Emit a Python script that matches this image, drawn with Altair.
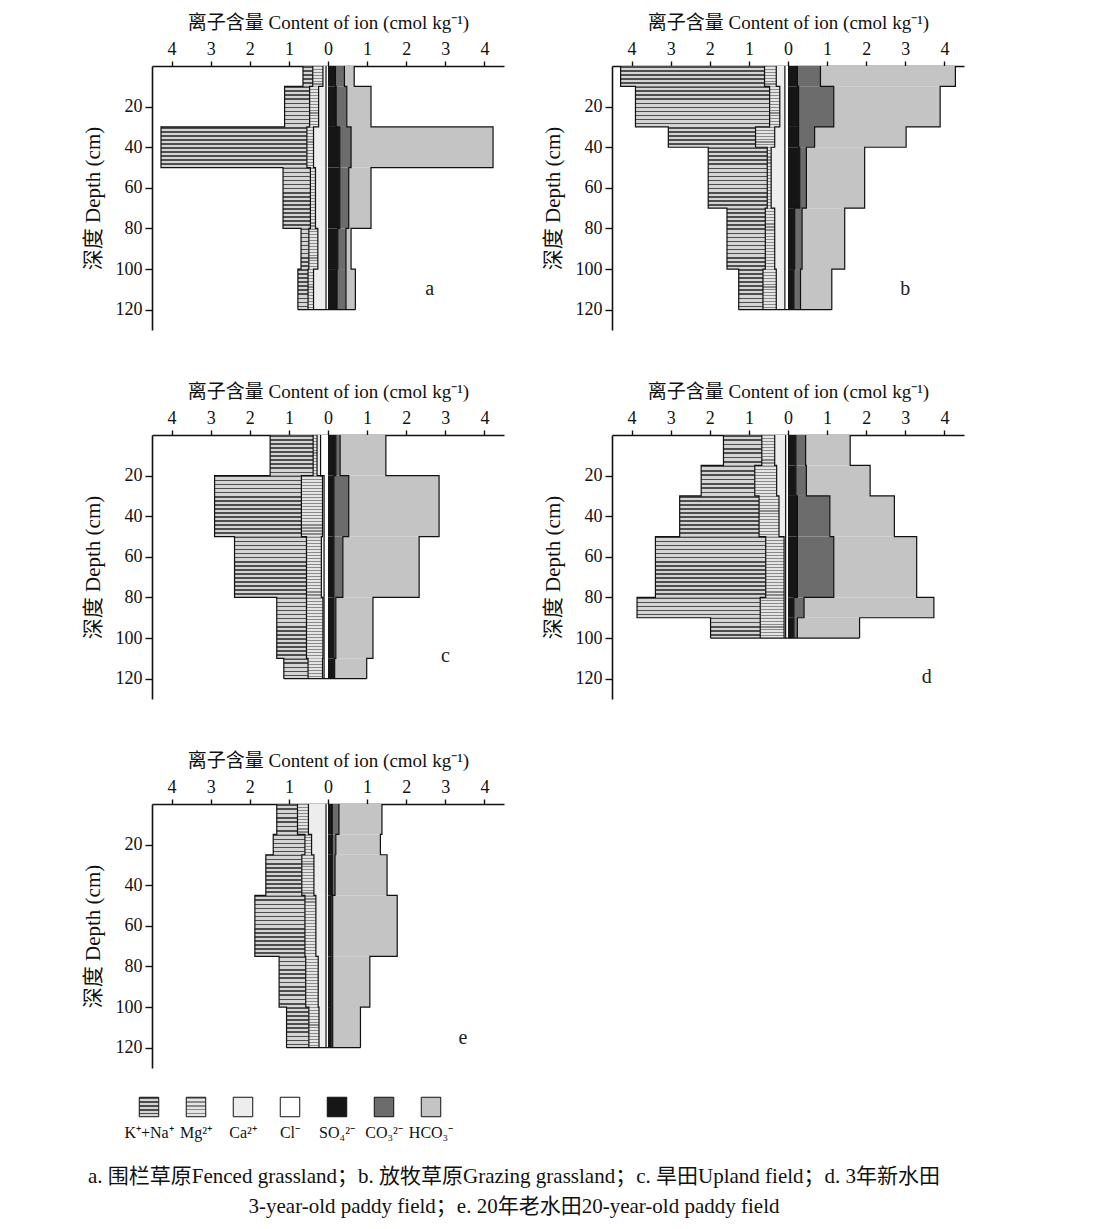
import altair as alt
import pandas as pd

FONT = "Liberation Serif, Noto Sans CJK SC, serif"

# ---------------- data (cmol/kg) ----------------
a_depth = [0, 10, 30, 50, 80, 100, 120]
a_KNa = [0.25, 0.64, 3.73, 0.70, 0.20, 0.26]
a_Mg = [0.26, 0.23, 0.17, 0.13, 0.23, 0.14]
a_Ca = [0.08, 0.19, 0.32, 0.27, 0.21, 0.32]
a_Cl = [0.05, 0.05, 0.05, 0.05, 0.05, 0.05]
a_SO4 = [0.19, 0.21, 0.30, 0.30, 0.25, 0.23]
a_CO3 = [0.23, 0.27, 0.29, 0.23, 0.21, 0.23]
a_HCO3 = [0.25, 0.62, 3.63, 0.57, 0.13, 0.24]

b_depth = [0, 10, 30, 40, 70, 100, 120]
b_KNa = [3.68, 3.43, 2.23, 1.51, 0.98, 0.62]
b_Mg = [0.30, 0.26, 0.49, 0.10, 0.24, 0.34]
b_Ca = [0.22, 0.13, 0.26, 0.35, 0.26, 0.22]
b_Cl = [0.08, 0.08, 0.08, 0.08, 0.08, 0.08]
b_SO4 = [0.24, 0.27, 0.27, 0.30, 0.17, 0.15]
b_CO3 = [0.59, 0.90, 0.41, 0.17, 0.19, 0.17]
b_HCO3 = [3.45, 2.72, 2.34, 1.49, 1.09, 0.80]

c_depth = [0, 20, 50, 80, 110, 120]
c_KNa = [1.10, 2.22, 1.84, 0.76, 0.62]
c_Mg = [0.10, 0.54, 0.38, 0.42, 0.37]
c_Ca = [0.09, 0.04, 0.07, 0.03, 0.04]
c_Cl = [0.19, 0.10, 0.10, 0.10, 0.10]
c_SO4 = [0.20, 0.15, 0.15, 0.15, 0.15]
c_CO3 = [0.11, 0.38, 0.23, 0.05, 0.02]
c_HCO3 = [1.17, 2.31, 1.95, 0.95, 0.82]

d_depth = [0, 15, 30, 50, 80, 90, 100]
d_KNa = [0.98, 1.37, 2.03, 2.82, 3.15, 1.27]
d_Mg = [0.33, 0.56, 0.51, 0.47, 0.61, 0.61]
d_Ca = [0.28, 0.23, 0.17, 0.04, 0.04, 0.04]
d_Cl = [0.06, 0.06, 0.06, 0.06, 0.06, 0.06]
d_SO4 = [0.20, 0.20, 0.24, 0.24, 0.15, 0.15]
d_CO3 = [0.25, 0.27, 0.83, 0.93, 0.26, 0.09]
d_HCO3 = [1.14, 1.63, 1.65, 2.12, 3.32, 1.59]

e_depth = [0, 15, 25, 45, 75, 100, 120]
e_KNa = [0.53, 0.81, 0.92, 1.28, 0.68, 0.57]
e_Mg = [0.28, 0.17, 0.31, 0.28, 0.32, 0.26]
e_Ca = [0.45, 0.37, 0.31, 0.26, 0.20, 0.18]
e_Cl = [0.05, 0.05, 0.05, 0.05, 0.05, 0.05]
e_SO4 = [0.11, 0.11, 0.11, 0.08, 0.08, 0.08]
e_CO3 = [0.17, 0.09, 0.07, 0.04, 0.04, 0.04]
e_HCO3 = [1.10, 1.14, 1.33, 1.65, 0.95, 0.71]

panel_letters = ["a", "b", "c", "d", "e"]
ion_keys = ["KNa", "Mg", "Ca", "Cl", "SO4", "CO3", "HCO3"]
ion_labels = ["K⁺+Na⁺", "Mg²⁺", "Ca²⁺", "Cl⁻", "SO₄²⁻", "CO₃²⁻", "HCO₃⁻"]
x_ticks = [-4, -3, -2, -1, 0, 1, 2, 3, 4]
y_ticks = [20, 40, 60, 80, 100, 120]
x_title = "离子含量 Content of ion (cmol kg⁻¹)"
y_title = "深度 Depth (cm)"
caption = [
    "a. 围栏草原Fenced grassland；b. 放牧草原Grazing grassland；c. 旱田Upland field；d. 3年新水田",
    "3-year-old paddy field；e. 20年老水田20-year-old paddy field",
]
# letter annotation placement (x in cmol/kg, depth in cm)
letter_x = [2.6, 3.0, 3.0, 3.55, 3.45]
letter_y = [110, 110, 109, 119, 115]

# ---------------- styling ----------------
W, H = 352, 264
YMAX = 130
SOLID = {"KNa": "#a9a9a9", "Mg": "#cdcdcd", "Ca": "#ededed", "Cl": "#ffffff",
         "SO4": "#161616", "CO3": "#6c6c6c", "HCO3": "#c4c4c4"}
STRIPE = {"KNa": ("#4e4e4e", "#d4d4d4", 4.2, 0.40), "Mg": ("#8a8a8a", "#e4e4e4", 3.0, 0.38)}


def stripes(dark, light, n, frac):
    stops = []
    for k in range(n):
        a = k / n
        b = (k + frac) / n
        c = (k + 1) / n
        stops += [
            {"offset": a, "color": dark},
            {"offset": b, "color": dark},
            {"offset": b, "color": light},
            {"offset": c, "color": light},
        ]
    return {"gradient": "linear", "x1": 0, "y1": 0, "x2": 0, "y2": 1, "stops": stops}


LEFT = ["Cl", "Ca", "Mg", "KNa"]
RIGHT = ["SO4", "CO3", "HCO3"]


def panel(depth, vals, letter, lx, ly):
    nseg = len(depth) - 1
    rects = []
    lines = []
    outer_edges = {}
    for order, sign in ((LEFT, -1), (RIGHT, 1)):
        inner = [0.0] * nseg
        for ion in order:
            seq = 0
            for i in range(nseg):
                outer = inner[i] + vals[ion][i]
                rects.append({"ion": ion, "i": i, "d0": depth[i], "d1": depth[i + 1],
                              "xa": sign * inner[i], "xb": sign * outer})
                lines.append({"bnd": ion, "seq": seq, "x": sign * outer, "depth": depth[i]})
                lines.append({"bnd": ion, "seq": seq + 1, "x": sign * outer, "depth": depth[i + 1]})
                seq += 2
                inner[i] = outer
        outer_edges[sign] = inner[-1]
    lines.append({"bnd": "bottom", "seq": 0, "x": -outer_edges[-1], "depth": depth[-1]})
    lines.append({"bnd": "bottom", "seq": 1, "x": outer_edges[1], "depth": depth[-1]})
    rdf = pd.DataFrame(rects)
    ldf = pd.DataFrame(lines)

    xscale = alt.Scale(domain=[-4.5, 4.5], nice=False, zero=False)
    yscale = alt.Scale(domain=[0, YMAX], reverse=True, nice=False, zero=False)
    xaxis = alt.Axis(orient="top", values=x_ticks, labelExpr="abs(datum.value)", title=x_title,
                     grid=False, tickSize=5, labelPadding=3, titlePadding=8)
    yaxis = alt.Axis(values=y_ticks, title=y_title, grid=False, tickSize=7, labelPadding=3,
                     titlePadding=12, titleFontSize=21)

    layers = []
    solid_df = rdf[~rdf["ion"].isin(list(STRIPE))]
    layers.append(
        alt.Chart(solid_df).mark_rect(strokeWidth=0).encode(
            x=alt.X("xa:Q", scale=xscale, axis=xaxis),
            x2="xb:Q",
            y=alt.Y("d0:Q", scale=yscale, axis=yaxis),
            y2="d1:Q",
            color=alt.Color("ion:N", scale=alt.Scale(domain=list(SOLID), range=list(SOLID.values())),
                            legend=None),
        )
    )
    for ion, (dark, light, period, frac) in STRIPE.items():
        sub = rdf[rdf["ion"] == ion]
        for _, r in sub.iterrows():
            hpx = (r["d1"] - r["d0"]) * H / YMAX
            n = max(1, int(round(hpx / period)))
            one = pd.DataFrame([r])
            layers.append(
                alt.Chart(one).mark_rect(strokeWidth=0, fill=stripes(dark, light, n, frac)).encode(
                    x=alt.X("xa:Q", scale=xscale, axis=xaxis), x2="xb:Q",
                    y=alt.Y("d0:Q", scale=yscale, axis=yaxis), y2="d1:Q",
                )
            )
    layers.append(
        alt.Chart(ldf).mark_line(color="#111111", strokeWidth=1.2, interpolate="linear").encode(
            x=alt.X("x:Q", scale=xscale, axis=xaxis),
            y=alt.Y("depth:Q", scale=yscale, axis=yaxis),
            order="seq:Q",
            detail="bnd:N",
        )
    )
    lab = pd.DataFrame({"x": [lx], "depth": [ly], "t": [letter]})
    layers.append(
        alt.Chart(lab).mark_text(font=FONT, fontSize=20, color="#222222").encode(
            x=alt.X("x:Q", scale=xscale, axis=xaxis), y=alt.Y("depth:Q", scale=yscale, axis=yaxis), text="t:N"
        )
    )
    return alt.layer(*layers).properties(width=W, height=H)


def vals_of(prefix):
    g = globals()
    return {ion: g[f"{prefix}_{ion}"] for ion in ion_keys}


pa = panel(a_depth, vals_of("a"), panel_letters[0], letter_x[0], letter_y[0])
pb = panel(b_depth, vals_of("b"), panel_letters[1], letter_x[1], letter_y[1])
pc = panel(c_depth, vals_of("c"), panel_letters[2], letter_x[2], letter_y[2])
pd_ = panel(d_depth, vals_of("d"), panel_letters[3], letter_x[3], letter_y[3])
pe = panel(e_depth, vals_of("e"), panel_letters[4], letter_x[4], letter_y[4])

# ---------------- legend ----------------
leg_layers = []
LW = 470
lx_scale = alt.Scale(domain=[3 / 47.0, LW / 47.0 + 3 / 47.0], nice=False, zero=False)
for i, ion in enumerate(ion_keys):
    df = pd.DataFrame({"idx": [i], "lab": [ion_labels[i]]})
    fill = stripes(*STRIPE[ion][:2], 5, STRIPE[ion][3]) if ion in STRIPE else SOLID[ion]
    leg_layers.append(
        alt.Chart(df)
        .mark_point(shape="square", filled=True, size=380, fill=fill, stroke="#111111",
                    strokeWidth=1, opacity=1)
        .encode(x=alt.X("idx:Q", scale=lx_scale, axis=None), y=alt.value(11))
    )
leg_text_df = pd.DataFrame({"idx": list(range(len(ion_labels))), "lab": ion_labels})
leg_layers.append(
    alt.Chart(leg_text_df)
    .mark_text(font=FONT, fontSize=16, color="#111111")
    .encode(x=alt.X("idx:Q", scale=lx_scale, axis=None), y=alt.value(37), text="lab:N")
)
legend = alt.layer(*leg_layers).properties(width=LW, height=46)

row1 = alt.hconcat(pa, pb, spacing=38)
row2 = alt.hconcat(pc, pd_, spacing=38)
panels = alt.vconcat(row1, row2, pe, spacing=52)

chart = (
    alt.vconcat(panels, legend, spacing=27)
    .properties(
        padding={"left": 74, "top": 5, "right": 5, "bottom": 5},
        title=alt.TitleParams(
            text=caption, orient="bottom", anchor="middle", font=FONT, fontSize=21,
            fontWeight="normal", color="#111111", offset=24, lineHeight=30, dx=-9,
        ),
    )
    .configure_view(stroke=None)
    .configure_axis(
        labelFont=FONT, titleFont=FONT, labelFontSize=18, titleFontSize=19, titleFontWeight="normal",
        labelColor="#111111", titleColor="#111111", domainColor="#111111", tickColor="#111111",
        domainWidth=1.6, tickWidth=1.4,
    )
)

chart.save("out.html", embed_options={"renderer": "svg", "actions": False})
